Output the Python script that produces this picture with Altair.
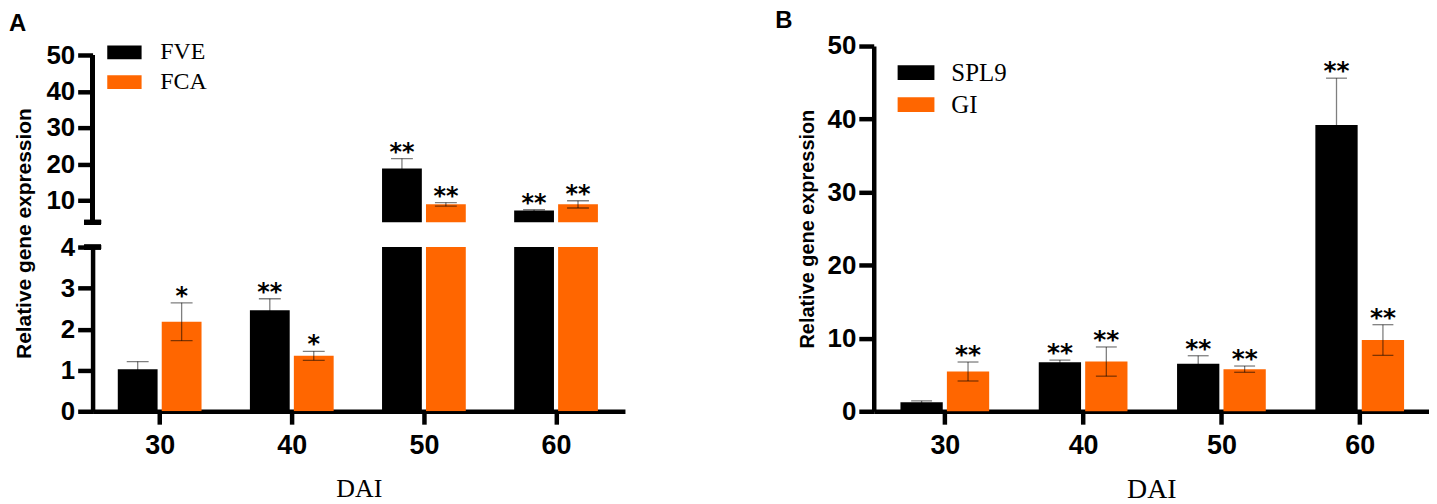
import json
import altair as alt
import pandas as pd

# ---------------- data ----------------
dai = ["30", "40", "50", "60"]

a_genes = ["FVE", "FCA"]
fve_mean = [1.02, 2.46, 18.8, 7.2]
fve_err = [0.19, 0.28, 2.7, 0.25]
fve_sig = ["", "**", "**", "**"]
fca_mean = [2.18, 1.35, 8.9, 8.9]
fca_err = [0.46, 0.11, 0.5, 1.0]
fca_sig = ["*", "*", "**", "**"]

b_genes = ["SPL9", "GI"]
spl9_mean = [1.22, 6.7, 6.5, 39.2]
spl9_err = [0.2, 0.3, 1.1, 6.4]
spl9_sig = ["", "**", "**", "**"]
gi_mean = [5.44, 6.8, 5.76, 9.75]
gi_err = [1.3, 2.0, 0.43, 2.1]
gi_sig = ["**", "**", "**", "**"]

bar_colors = ["#000000", "#FF6600"]

a_top_ticks = [10, 20, 30, 40, 50]
a_bottom_ticks = [0, 1, 2, 3, 4]
b_ticks = [0, 10, 20, 30, 40, 50]
a_break = 4
y_title = "Relative gene expression"
x_title = "DAI"


def make_df(genes, means, errs, sigs):
    rows = []
    for g, m, e, s in zip(genes, means, errs, sigs):
        for d, mv, ev, sv in zip(dai, m, e, s):
            rows.append(dict(DAI=d, gene=g, value=mv, err=ev, sig=sv))
    return pd.DataFrame(rows)


a_df = make_df(a_genes, [fve_mean, fca_mean], [fve_err, fca_err], [fve_sig, fca_sig])
b_df = make_df(b_genes, [spl9_mean, gi_mean], [spl9_err, gi_err], [spl9_sig, gi_sig])

SANS = "Liberation Sans"
SERIF = "Liberation Serif"
DAI_LABELS = "%s[datum.value]" % json.dumps(dai)


def panel(df, genes, domain, xdomain, pair_off, yaxis, xaxis, legend, width, height, bar_w,
          cap, star_size, clip, star_filter, extra):
    pos_expr = "indexof(%s, datum.DAI) + (indexof(%s, datum.gene) - 0.5) * %s" % (
        json.dumps(dai), json.dumps(genes), pair_off)
    x = alt.X("pos:Q", scale=alt.Scale(domain=xdomain, nice=False, zero=False), axis=xaxis)
    ysc = alt.Scale(domain=domain, nice=False, zero=False)
    color = alt.Color("gene:N", sort=genes,
                      scale=alt.Scale(domain=genes, range=bar_colors), legend=legend)
    base = alt.Chart(df).transform_calculate(
        lo="datum.value - datum.err", hi="datum.value + datum.err", pos=pos_expr)
    bars = base.mark_bar(clip=clip, width=bar_w).encode(
        x=x, y=alt.Y("value:Q", scale=ysc, axis=yaxis), color=color)
    err = base.mark_rule(clip=clip, color="black", opacity=0.5, strokeWidth=1.3).encode(
        x=x, y=alt.Y("lo:Q", scale=ysc, axis=yaxis), y2="hi:Q")
    cap_hi = base.mark_tick(clip=clip, color="black", opacity=0.5, thickness=1.3, size=cap,
                            orient="horizontal").encode(
        x=x, y=alt.Y("hi:Q", scale=ysc, axis=yaxis))
    cap_lo = base.mark_tick(clip=clip, color="black", opacity=0.5, thickness=1.3, size=cap,
                            orient="horizontal").encode(
        x=x, y=alt.Y("lo:Q", scale=ysc, axis=yaxis))
    star_src = base.transform_filter(star_filter) if star_filter else base
    stars = star_src.mark_text(font="DejaVu Sans", fontWeight="bold", fontSize=star_size,
                               baseline="alphabetic", dy=1, color="black").encode(
        x=x, y=alt.Y("hi:Q", scale=ysc, axis=yaxis), text="sig:N")
    layers = [bars, err, cap_hi, cap_lo, stars]
    for kind, args in extra:
        if kind == "cap":
            layers.append(base.mark_rule(color="black", strokeWidth=4.5).encode(
                y=alt.datum(args), x=alt.value(-8.5), x2=alt.value(8.5)))
        elif kind == "axisline":
            layers.append(base.mark_rule(color="black", strokeWidth=4.5, strokeCap="butt").encode(
                y=alt.datum(args[0]), y2=alt.datum(args[1]), x=alt.value(0)))
    return alt.layer(*layers).properties(width=width, height=height)


def x_axis(title_size, title_pad):
    return alt.Axis(title=x_title, values=list(range(len(dai))), labelExpr=DAI_LABELS,
                    labelFlush=False, labelAngle=0, labelFontSize=27, tickSize=13,
                    labelPadding=8, titleFont=SERIF, titleFontWeight="normal",
                    titleFontSize=title_size, titlePadding=title_pad)


def rect_legend(sym_size, lx, ly, fsize, offset):
    return alt.Legend(orient="none", legendX=lx, legendY=ly, title=None,
                      symbolType="M-1.5,-0.6H1.5V0.6H-1.5Z", symbolSize=sym_size,
                      symbolStrokeWidth=0, symbolOpacity=1,
                      labelFont=SERIF, labelFontSize=fsize, labelColor="black",
                      labelOffset=offset, rowPadding=6, padding=0)


A_XDOM = [-0.470, 3.484]
B_XDOM = [-0.478, 3.465]

# ---------- panel A (broken axis) ----------
a_top = panel(
    a_df, a_genes, [a_break, 52.5], A_XDOM, 0.3326,
    alt.Axis(values=a_top_ticks, title=None, labelFontSize=26, tickSize=15, labelPadding=3,
             domain=False),
    None, rect_legend(529, 20, -5.7, 24, 24), 535, 177, 40, 22, 24, True,
    "datum.hi > 4", [("cap", a_break), ("axisline", (a_break, 50))])

a_bottom = panel(
    a_df, a_genes, [0, a_break], A_XDOM, 0.3326,
    alt.Axis(values=a_bottom_ticks, title=y_title, labelFontSize=26, tickSize=15, labelPadding=3,
             titleFont=SANS, titleFontWeight="bold", titleFontSize=21,
             titleX=-58, titleY=-14),
    x_axis(26, 18), None, 535, 165, 40, 22, 24, True,
    "datum.hi <= 4", [("cap", a_break)])

a_panel = alt.vconcat(a_top, a_bottom, spacing=25, bounds="flush").resolve_scale(
    y="independent", color="independent").resolve_legend(color="independent").properties(
    title=alt.TitleParams("A", anchor="start", frame="bounds", dx=-5, offset=4,
                          font=SANS, fontSize=24, fontWeight="bold", color="black"))

# ---------- panel B ----------
b_panel = panel(
    b_df, b_genes, [0, 50], B_XDOM, 0.3357,
    alt.Axis(values=b_ticks, title=y_title, labelFontSize=26, tickSize=15, labelPadding=3,
             titleFont=SANS, titleFontWeight="bold", titleFontSize=20, titlePadding=10),
    x_axis(28, 18), rect_legend(608, 30, 14.3, 25, 23), 558, 367, 42.5,
    21, 25, False, None, []).properties(
    title=alt.TitleParams("B", anchor="start", frame="bounds", dx=-22, offset=0,
                          font=SANS, fontSize=24, fontWeight="bold", color="black"))

chart = alt.hconcat(a_panel, b_panel, spacing=151).resolve_scale(
    color="independent", y="independent", x="independent").resolve_legend(
    color="independent").properties(padding=0).configure_view(stroke=None).configure_axis(
    domainColor="black", tickColor="black", domainWidth=4.5, tickWidth=4.5, grid=False,
    labelFont=SANS, labelFontWeight="bold", labelColor="black", titleColor="black",
    domainCap="butt")

chart.save("out.html", embed_options={"renderer": "svg", "actions": False})
